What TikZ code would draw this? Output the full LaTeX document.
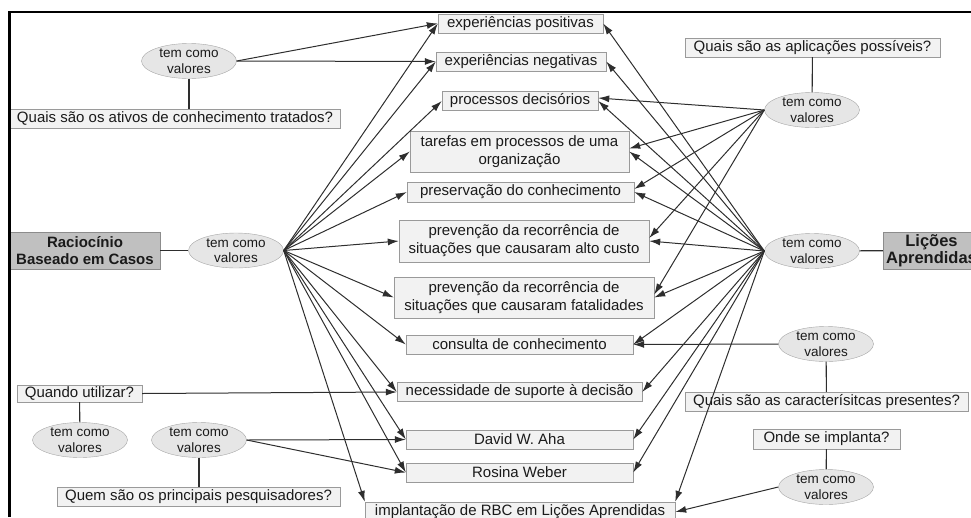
\documentclass[tikz,border=0pt]{standalone}
\usepackage{fontspec}
\setmainfont{Liberation Sans}
\usepackage{tikz}
\usetikzlibrary{arrows.meta,positioning,shapes.geometric}
\definecolor{boxfill}{HTML}{F2F2F2}
\definecolor{boxline}{HTML}{9A9A9A}
\definecolor{mainfill}{HTML}{C0C0C0}
\definecolor{mainline}{HTML}{8C8C8C}
\definecolor{phrfill}{HTML}{E6E6E6}
\definecolor{phrline}{HTML}{A6A6A6}
\definecolor{ink}{HTML}{1A1A1A}
\definecolor{wire}{HTML}{2E2E2E}
\tikzset{
  concept/.style={draw=boxline, fill=boxfill, inner xsep=4pt, inner ysep=1pt,
                  minimum height=19pt, align=center,
                  font=\fontsize{15}{18}\selectfont\color{ink}},
  mainconcept/.style={draw=mainline, fill=mainfill, inner xsep=2pt, inner ysep=1pt,
                      minimum height=37pt, align=center,
                      font=\fontsize{15}{17}\selectfont\bfseries\color{ink}},
  phrase/.style={ellipse, draw=phrline, fill=phrfill, minimum width=95pt,
                 minimum height=35pt, inner sep=0pt, align=center,
                 font=\fontsize{13.5}{15.5}\selectfont\color{ink}},
  flow/.style={-{Latex[length=11pt,width=7pt]}, line width=1pt, draw=wire},
  tie/.style={line width=1.1pt, draw=wire}
}

\begin{document}
\begin{tikzpicture}[x=1pt,y=-1pt]
  \useasboundingbox (0,0) rectangle (971,517);
  \clip (0,0) rectangle (971,517);

  % values in the middle column
  \node[concept, minimum width=165pt] (expPos) at (520.5,23.5) {experiências positivas};
  \node[concept, minimum width=170pt] (expNeg) at (521,61.5) {experiências negativas};
  \node[concept, minimum width=156pt] (procDec) at (520,101) {processos decisórios};
  \node[concept, minimum width=219pt, minimum height=41pt] (tarefas) at (519.5,151.5)
    {tarefas em processos de uma\\organização};
  \node[concept, minimum width=227pt, minimum height=20pt] (preserv) at (520.5,192)
    {preservação do conhecimento};
  \node[concept, minimum width=250pt, minimum height=42pt] (custo) at (524,241)
    {prevenção da recorrência de\\situações que causaram alto custo};
  \node[concept, minimum width=260pt, minimum height=41pt] (fatal) at (524,297.5)
    {prevenção da recorrência de\\situações que causaram fatalidades};
  \node[concept, minimum width=227pt] (consulta) at (519.5,344.5) {consulta de conhecimento};
  \node[concept, minimum width=245pt] (necess) at (519.5,392) {necessidade de suporte à decisão};
  \node[concept, minimum width=227pt] (david) at (519.5,439.5) {David W. Aha};
  \node[concept, minimum width=227pt] (rosina) at (519.5,472.5) {Rosina Weber};
  \node[concept, minimum width=310pt, minimum height=20pt] (implant) at (520,512)
    {implantação de RBC em Lições Aprendidas};

  % questions
  \node[concept, minimum width=330pt] (qAtivos) at (175,118.5)
    {Quais são os ativos de conhecimento tratados?};
  \node[concept, minimum width=255pt] (qAplic) at (812.5,47.5)
    {Quais são as aplicações possíveis?};
  \node[concept, minimum width=125pt, minimum height=17pt] (qQuando) at (79.5,393.5)
    {Quando utilizar?};
  \node[concept, minimum width=283pt] (qPesq) at (198.5,497)
    {Quem são os principais pesquisadores?};
  \node[concept, minimum width=283pt] (qCaract) at (826.5,401.5)
    {Quais são as caracterísitcas presentes?};
  \node[concept, minimum width=147pt, minimum height=20pt] (qOnde) at (826.5,439)
    {Onde se implanta?};

  % the two main concepts
  \node[mainconcept, minimum width=150pt] (rbc) at (85,250.5) {Raciocínio\\Baseado em Casos};
  \node[mainconcept, minimum width=97pt, font=\fontsize{16.5}{17}\selectfont\bfseries\color{ink}]
    (licoes) at (931.5,250.5) {Lições\\Aprendidas};

  % linking phrases
  \node[phrase] (eTopo) at (189,61) {tem como\\valores};
  \node[phrase] (eRbc) at (236,250.5) {tem como\\valores};
  \node[phrase] (eAplic) at (812,110) {tem como\\valores};
  \node[phrase] (eLicoes) at (812,251) {tem como\\valores};
  \node[phrase] (eCaract) at (826,344) {tem como\\valores};
  \node[phrase] (eQuando) at (80,440) {tem como\\valores};
  \node[phrase] (ePesq) at (199,440) {tem como\\valores};
  \node[phrase] (eOnde) at (826,487) {tem como\\valores};

  % plain links
  \draw[tie] (rbc) -- (eRbc);
  \draw[tie] (eLicoes) -- (licoes);
  \draw[tie] (eTopo) -- (eTopo |- qAtivos.north);
  \draw[tie] (qAplic) -- (eAplic);
  \draw[tie] (eCaract) -- (qCaract);
  \draw[tie] (qOnde) -- (eOnde);
  \draw[tie] (qQuando) -- (eQuando);
  \draw[tie] (ePesq) -- (ePesq |- qPesq.north);

  % fans from the two hubs
  \foreach \t in {expPos,expNeg,procDec,tarefas,preserv,custo,fatal,consulta,necess,david,rosina}
    \draw[flow] (eRbc.east) -- (\t.west);
  \draw[flow] (eRbc.east) -- (implant.north west);
  \foreach \t in {expPos,expNeg,procDec,tarefas,preserv,custo,fatal,consulta,necess,david,rosina}
    \draw[flow] (eLicoes.west) -- (\t.east);
  \draw[flow] (eLicoes.west) -- (implant.north east);
  \foreach \t in {procDec,tarefas,preserv,custo,fatal}
    \draw[flow] (eAplic.west) -- ([yshift=3pt]\t.east);

  % the other arrows
  \draw[flow] (eTopo.east) -- (expPos.west);
  \draw[flow] (eTopo.east) -- (expNeg.west);
  \draw[flow] (qQuando.east) -- (necess.west);
  \draw[flow] (ePesq.east) -- (david.west);
  \draw[flow] (ePesq.east) -- (rosina.west);
  \draw[flow] (eCaract.west) -- (consulta.east);
  \draw[flow] (eOnde.west) -- (implant.east);

  % frame
  \draw[line width=2.5pt] (9.7,517) -- (9.7,12) -- (971,12);
\end{tikzpicture}
\end{document}
